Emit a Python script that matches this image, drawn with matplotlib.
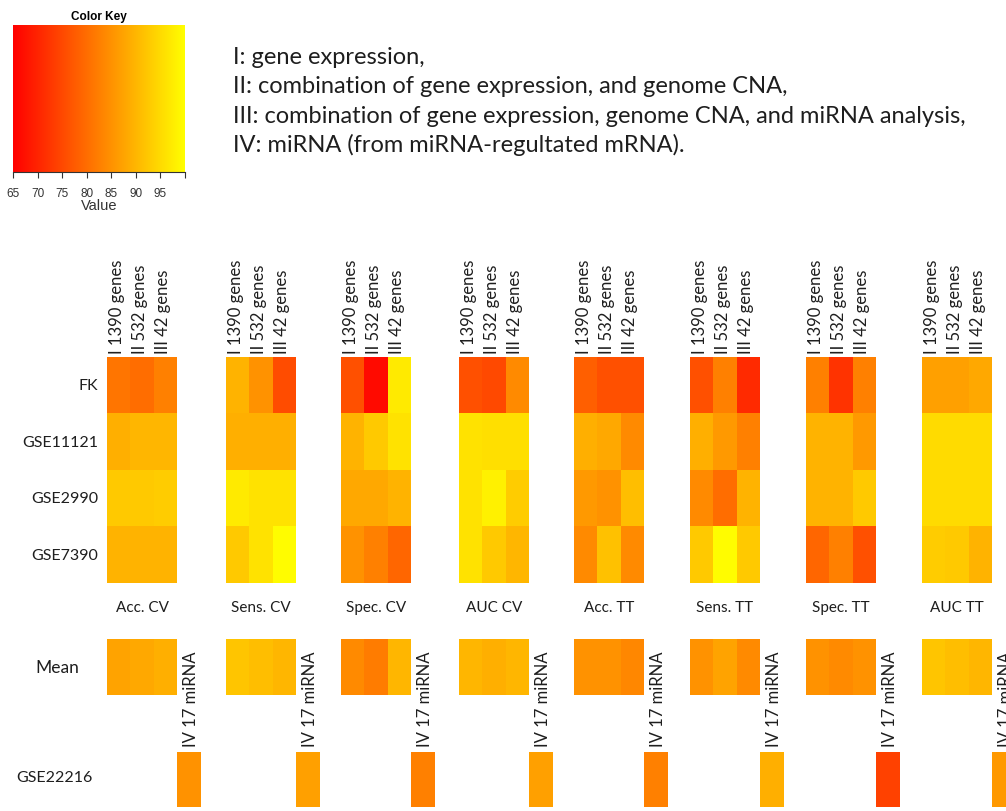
import numpy as np
import matplotlib
matplotlib.use("Agg")
import matplotlib.pyplot as plt
from matplotlib.colors import LinearSegmentedColormap

# data (percent)
datasets = ["FK", "GSE11121", "GSE2990", "GSE7390"]
gene_sets = ["I 1390 genes", "II 532 genes", "III 42 genes"]
metrics = ["Acc. CV", "Sens. CV", "Spec. CV", "AUC CV",
           "Acc. TT", "Sens. TT", "Spec. TT", "AUC TT"]

acc_cv = [[81, 80, 82.5], [89, 90, 90], [92.5, 92.5, 93], [89.5, 89.5, 89.5]]
sens_cv = [[89.5, 85, 75.5], [89, 89, 89], [97, 96, 96], [92.5, 96, 99.5]]
spec_cv = [[76, 66.5, 97], [89.5, 92.5, 96], [88, 88, 89.5], [85, 82.5, 79]]
auc_cv = [[76, 75, 84], [96, 95.5, 95.5], [96, 98, 93], [96, 92.5, 90]]
acc_tt = [[78, 76, 76], [89, 88, 84], [86, 85, 91], [84, 91.5, 84]]
sens_tt = [[76, 82.5, 70.8], [89, 86, 82.5], [84, 80, 89.5], [92.5, 99.5, 92.5]]
spec_tt = [[82.5, 72, 82.5], [89.5, 89.5, 86], [89.5, 89.5, 92.5], [79, 82.5, 76]]
auc_tt = [[87, 87, 88], [95, 95, 95], [95, 95, 95], [93, 92.5, 89.5]]

mean_vals = [[87.5, 88, 89], [92, 91, 90], [84, 82, 90], [90, 89, 90],
             [85, 85, 83.5], [85, 87.5, 84], [85, 84, 85], [92, 91, 90]]
mirna_label = "IV 17 miRNA"
gse22216 = [85, 87, 82.5, 87, 82.5, 89, 74, 86]

legend_lines = [
    "I: gene expression,",
    "II: combination of gene expression, and genome CNA,",
    "III: combination of gene expression, genome CNA, and miRNA analysis,",
    "IV: miRNA (from miRNA-regultated mRNA).",
]

main_vals = [acc_cv, sens_cv, spec_cv, auc_cv, acc_tt, sens_tt, spec_tt, auc_tt]

W, H = 1006, 812
cmap = LinearSegmentedColormap.from_list("redyellow", ["#FF0000", "#FFFF00"])
vmin, vmax = 65, 100
txt = "#1e1e1e"
calfont = ["Lato", "DejaVu Sans"]

fig = plt.figure(figsize=(W / 100, H / 100), dpi=100)


def px_axes(x0, y0, x1, y1):
    # axes from pixel box (top-left origin)
    return fig.add_axes([x0 / W, 1 - y1 / H, (x1 - x0) / W, (y1 - y0) / H])


def fx(x):
    return x / W


def fy(y):
    return 1 - y / H


# color key
kax = px_axes(13, 26, 185, 173)
grad = np.linspace(vmin, vmax, 256).reshape(1, -1)
kax.imshow(grad, cmap=cmap, vmin=vmin, vmax=vmax, aspect="auto",
           extent=[vmin, vmax, 0, 1])
kax.set_xlim(vmin, vmax)
kax.set_yticks([])
kax.set_xticks(range(65, 101, 5))
kax.set_xticklabels([str(v) for v in range(65, 100, 5)] + [""],
                    fontsize=8.5, family="Liberation Sans", color="#333333")
kax.tick_params(axis="x", length=4, pad=7, color="#333333")
for s in ["top", "right", "left"]:
    kax.spines[s].set_visible(False)
kax.spines["bottom"].set_color("#333333")
kax.set_xlabel("Value", fontsize=10.5, family="Liberation Sans", color="#333333",
               labelpad=-1)
kax.set_title("Color Key", fontsize=8.5, fontweight="bold",
              family="Liberation Sans", pad=4)

# legend text
for i, line in enumerate(legend_lines):
    fig.text(fx(233), fy(64 + i * 29.3), line, fontsize=17, family=calfont,
             color=txt, ha="left", va="baseline")

# heatmap panels
lefts = [107, 226, 341, 459, 574, 690, 806, 922]
pw = 70
cw = pw / 3
main_top, main_bot = 358, 584
mean_top, mean_bot = 640, 696
iv_top, iv_bot = 753, 808
rh = (main_bot - main_top) / len(datasets)

for p, name in enumerate(metrics):
    x0 = lefts[p]
    ax = px_axes(x0, main_top, x0 + pw, main_bot)
    ax.imshow(np.array(main_vals[p]), cmap=cmap, vmin=vmin, vmax=vmax,
              aspect="auto", interpolation="nearest")
    ax.axis("off")

    for j, g in enumerate(gene_sets):
        fig.text(fx(x0 + cw * (j + 0.5) - 2), fy(354), g, rotation=90,
                 ha="center", va="bottom", fontsize=12, family=calfont, color=txt)

    fig.text(fx(x0 + pw / 2), fy(608), name, ha="center", va="center",
             fontsize=11, family=calfont, color=txt)

    max_ = px_axes(x0, mean_top, x0 + pw, mean_bot)
    max_.imshow(np.array([mean_vals[p]]), cmap=cmap, vmin=vmin, vmax=vmax,
                aspect="auto", interpolation="nearest")
    max_.axis("off")

    iax = px_axes(x0 + pw, iv_top, x0 + pw + cw, iv_bot)
    iax.imshow(np.array([[gse22216[p]]]), cmap=cmap, vmin=vmin, vmax=vmax,
               aspect="auto", interpolation="nearest")
    iax.axis("off")

    fig.text(fx(x0 + pw + cw / 2 + 2), fy(747), mirna_label, rotation=90,
             ha="center", va="bottom", fontsize=12, family=calfont, color=txt)

for i, d in enumerate(datasets):
    fig.text(fx(98), fy(main_top + rh * (i + 0.5)), d, ha="right", va="center",
             fontsize=11.5, family=calfont, color=txt)
fig.text(fx(57), fy((mean_top + mean_bot) / 2), "Mean", ha="center",
         va="center", fontsize=12.5, family=calfont, color=txt)
fig.text(fx(93), fy((iv_top + iv_bot) / 2 - 2), "GSE22216", ha="right",
         va="center", fontsize=11.5, family=calfont, color=txt)

fig.savefig("out.png", dpi=100)
